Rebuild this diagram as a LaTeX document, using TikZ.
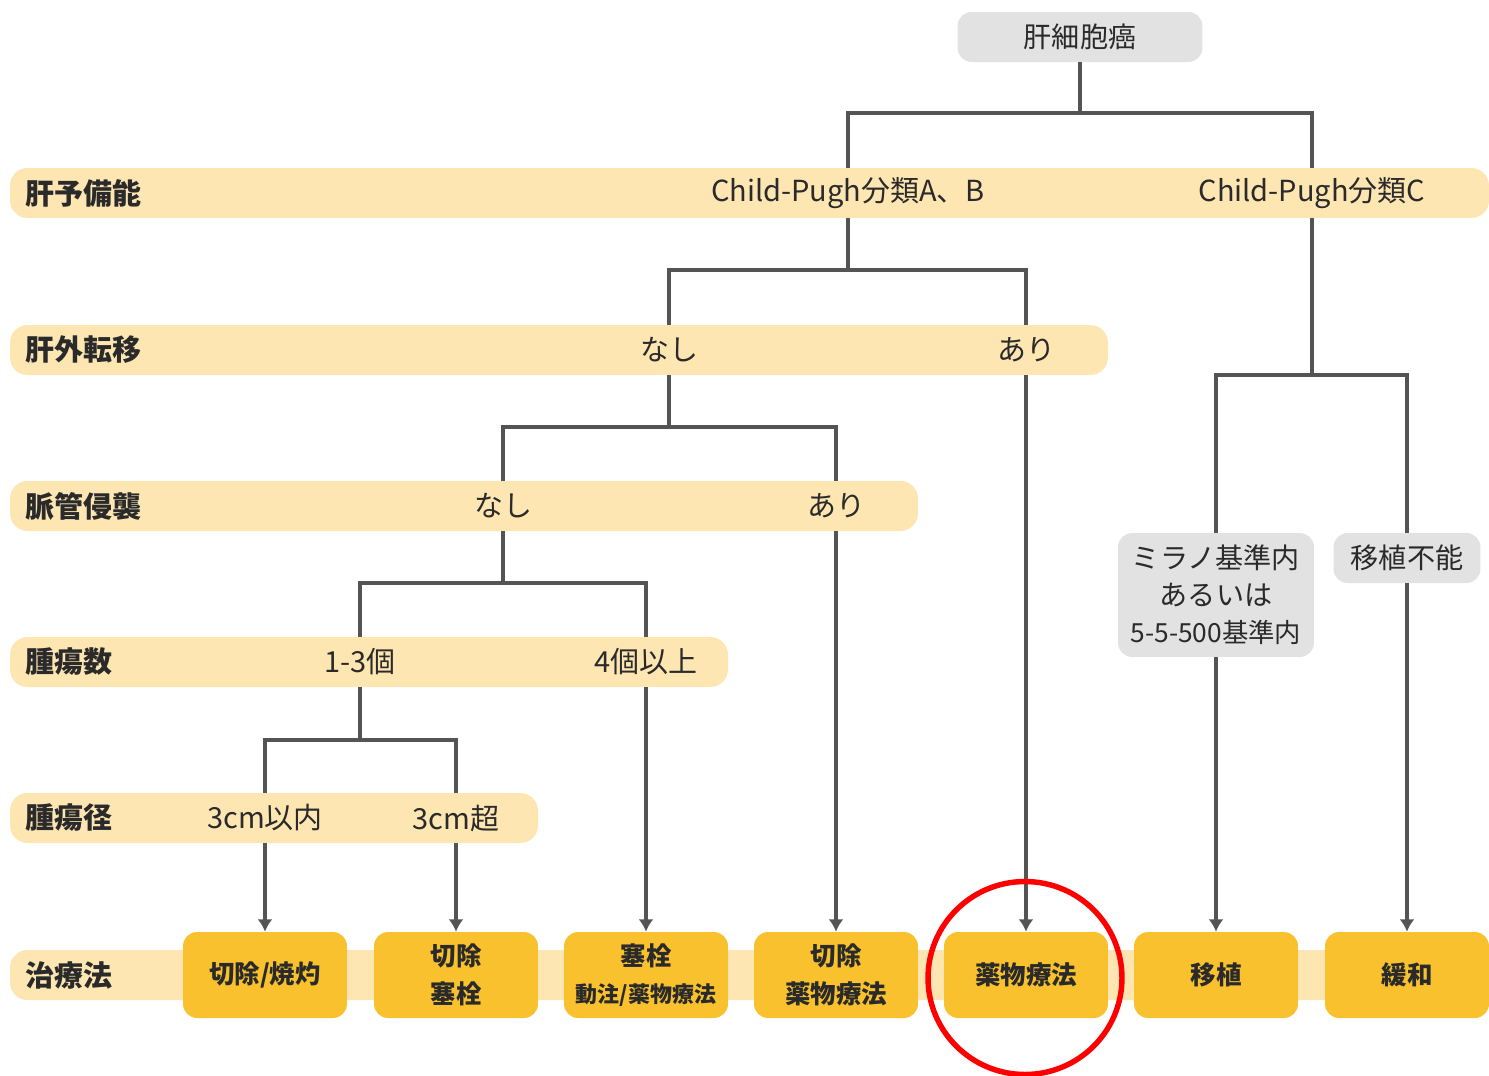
\documentclass[tikz,border=0pt]{standalone}
\usepackage{fontspec}
\setmainfont{Noto Sans CJK JP}
\usetikzlibrary{arrows.meta}
\definecolor{bandc}{HTML}{FDE6B2}
\definecolor{boxc}{HTML}{F8C12D}
\definecolor{grayc}{HTML}{E2E2E2}
\definecolor{linec}{HTML}{545454}
\definecolor{txtc}{HTML}{2A2A2A}
\tikzset{
  band/.style={fill=bandc, rounded corners=10pt},
  lab/.style={anchor=west, inner sep=0pt, text=txtc, font=\fontsize{16.5}{18}\selectfont\bfseries},
  val/.style={minimum height=1cm, inner sep=0pt, text=txtc, font=\fontsize{16.5}{18}\selectfont},
  grybox/.style={fill=grayc, rounded corners=8pt, inner sep=0pt, align=center, text=txtc, font=\fontsize{16}{21}\selectfont},
  treat/.style={fill=boxc, rounded corners=8pt, minimum width=3.28cm, minimum height=1.72cm, inner sep=0pt, align=center, text=txtc, font=\fontsize{14.5}{21.5}\selectfont\bfseries},
  link/.style={draw=linec, line width=2.1pt},
}
\begin{document}
\begin{tikzpicture}[x=0.02cm, y=-0.02cm, >={Latex[length=7pt,width=8.5pt]}]
\useasboundingbox (0,0) rectangle (1489,1076);
% bands
\fill[band] (10,168) rectangle (1489,218);
\fill[band] (10,325) rectangle (1108,375);
\fill[band] (10,481) rectangle (918,531);
\fill[band] (10,637) rectangle (728,687);
\fill[band] (10,793) rectangle (538,843);
\fill[band] (10,950) rectangle (1489,1000);

\node[lab] (l1) at (25,193) {肝予備能};
\node[lab] (l2) at (25,350) {肝外転移};
\node[lab] (l3) at (25,506) {脈管侵襲};
\node[lab] (l4) at (25,662) {腫瘍数};
\node[lab] (l5) at (25,818) {腫瘍径};
\node[lab] (l6) at (25,975) {治療法};

\node[grybox, minimum width=4.9cm, minimum height=1cm] (root) at (1080,37) {肝細胞癌};

\node[val] (ab) at (848,193) {Child-Pugh分類A、B};
\node[val] (c) at (1312,193) {Child-Pugh分類C};
\node[val] (na1) at (669,350) {なし};
\node[val] (ar1) at (1026,350) {あり};
\node[val] (na2) at (503,506) {なし};
\node[val] (ar2) at (836,506) {あり};
\node[val] (n13) at (360,662) {1-3個};
\node[val] (n4) at (646,662) {4個以上};
\node[val] (d3) at (265,818) {3cm以内};
\node[val] (d3p) at (456,818) {3cm超};

\node[grybox, minimum width=3.92cm, minimum height=2.48cm] (milan) at (1216,595)
  {ミラノ基準内\\あるいは\\{\fontsize{15}{21}\selectfont 5-5-500基準内}};
\node[grybox, minimum width=2.94cm, minimum height=1cm] (fun) at (1407,558) {移植不能};

\node[treat] (t1) at (265,975) {切除/焼灼};
\node[treat] (t2) at (456,975) {切除\\塞栓};
\node[treat] (t3) at (646,975) {塞栓\\{\fontsize{12.5}{21.5}\selectfont\bfseries 動注/薬物療法}};
\node[treat] (t4) at (836,975) {切除\\薬物療法};
\node[treat] (t5) at (1026,975) {薬物療法};
\node[treat] (t6) at (1216,975) {移植};
\node[treat] (t7) at (1407,975) {緩和};

% branches
\coordinate (j1) at (1080,113);
\coordinate (j2) at (848,270);
\coordinate (j3) at (669,427);
\coordinate (j4) at (503,583);
\coordinate (j5) at (360,740);
\coordinate (j6) at (1312,375);
\draw[link] (root.south) -- (j1);
\draw[link] (ab.north) |- (j1) -| (c.north);
\draw[link] (ab.south) -- (j2);
\draw[link] (na1.north) |- (j2) -| (ar1.north);
\draw[link] (na1.south) -- (j3);
\draw[link] (na2.north) |- (j3) -| (ar2.north);
\draw[link] (na2.south) -- (j4);
\draw[link] (n13.north) |- (j4) -| (n4.north);
\draw[link] (n13.south) -- (j5);
\draw[link] (d3.north) |- (j5) -| (d3p.north);
\draw[link] (c.south) -- (j6);
\draw[link] (milan.north) |- (j6) -| (fun.north);

\draw[link, ->] (d3.south) -- (t1.north);
\draw[link, ->] (d3p.south) -- (t2.north);
\draw[link, ->] (n4.south) -- (t3.north);
\draw[link, ->] (ar2.south) -- (t4.north);
\draw[link, ->] (ar1.south) -- (t5.north);
\draw[link, ->] (milan.south) -- (t6.north);
\draw[link, ->] (fun.south) -- (t7.north);

\draw[red, line width=3.1pt] (1025,978) ellipse [x radius=1.94cm, y radius=1.93cm];
\end{tikzpicture}
\end{document}
